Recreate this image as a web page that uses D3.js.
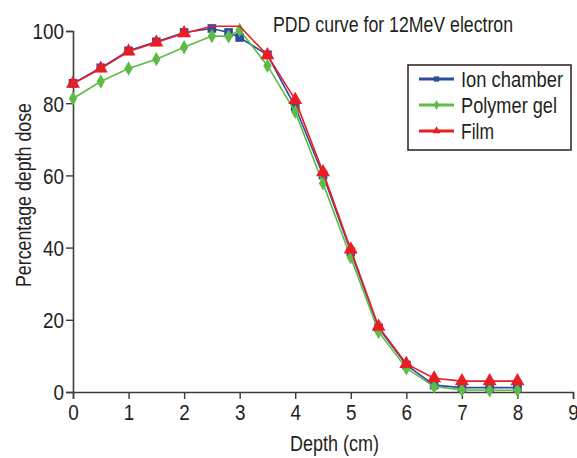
<!DOCTYPE html>
<html>
<head>
<meta charset="utf-8">
<script src="https://cdn.jsdelivr.net/npm/d3@7"></script>
<style>
  body { margin: 0; background: #fff; }
  text { font-family: "Liberation Sans", Arial, sans-serif; fill: #231f20; }
</style>
</head>
<body>
<div id="chart-area"></div>
<script>
var width = 577;
var height = 458;

// data
var depth = [0, 0.5, 1, 1.5, 2, 2.5, 2.8, 3, 3.5, 4, 4.5, 5, 5.5, 6, 6.5, 7, 7.5, 8];
var ionChamber = [85.5, 89.8, 94.5, 97, 99.6, 100.7, 99.6, 98.2, 93.4, 79, 60.1, 38.9, 17.8, 7.5, 1.9, 1.2, 1.2, 1.2];
var polymerGel = [81.3, 86, 89.6, 92.2, 95.5, 98.6, 98.5, 100.3, 90.4, 77.6, 57.8, 37.3, 16.7, 6.6, 1.5, 0.6, 0.5, 0.5];
var filmDepth = [0, 0.5, 1, 1.5, 2, 2.5, 3, 3.5, 4, 4.5, 5, 5.5, 6, 6.5, 7, 7.5, 8];
var film = [85.4, 89.6, 94.3, 96.8, 99.4, 101.3, 101.3, 93.3, 80.9, 60.9, 39.5, 18.1, 7.8, 3.8, 3.0, 3.0, 3.0];
var xTicks = [0, 1, 2, 3, 4, 5, 6, 7, 8, 9];
var yTicks = [0, 20, 40, 60, 80, 100];

var series = [
  { name: "Ion chamber", x: depth, y: ionChamber, color: "#2e4c9f", symbol: d3.symbolSquare, size: 75, w: 102 },
  { name: "Polymer gel", x: depth, y: polymerGel, color: "#5dbb46", symbol: d3.symbolDiamond, size: 60, w: 96 },
  { name: "Film", x: filmDepth, y: film, color: "#ec1c24", symbol: d3.symbolTriangle, size: 85, w: 33 }
];

var svg = d3.select("#chart-area")
  .append("svg")
  .attr("width", width)
  .attr("height", height);

// the reference font is a condensed one: squeeze text to the measured widths
function squeeze(sel, w) {
  sel.attr("textLength", w).attr("lengthAdjust", "spacingAndGlyphs");
}

var x = d3.scaleLinear().domain([0, 9]).range([73, 573]);
var y = d3.scaleLinear().domain([0, 100]).range([392, 31]);

// axes
var xAxis = svg.append("g")
  .attr("transform", "translate(0," + y(0) + ")")
  .call(d3.axisBottom(x).tickValues(xTicks).tickSize(7).tickPadding(5));
var yAxis = svg.append("g")
  .attr("transform", "translate(" + x(0) + ",0)")
  .call(d3.axisLeft(y).tickValues(yTicks).tickSize(7).tickPadding(2));

[xAxis, yAxis].forEach(function(g) {
  g.select(".domain").attr("stroke", "#3c3c3c").attr("stroke-width", 1.6);
  g.selectAll(".tick line").attr("stroke", "#3c3c3c").attr("stroke-width", 1.4);
  g.selectAll(".tick text")
    .attr("font-size", 22)
    .attr("fill", "#231f20")
    .attr("font-family", "Liberation Sans, sans-serif")
    .each(function() {
      squeeze(d3.select(this), this.textContent.length * 10.5);
    });
});
yAxis.selectAll(".tick text").attr("dy", "0.36em");

// lines
var line = d3.line()
  .x(function(d) { return x(d[0]); })
  .y(function(d) { return y(d[1]); });

series.forEach(function(s) {
  var pts = s.x.map(function(d, i) { return [d, s.y[i]]; });
  svg.append("path")
    .datum(pts)
    .attr("fill", "none")
    .attr("stroke", s.color)
    .attr("stroke-width", 1.6)
    .attr("d", line);
  // film has no markers on its flat plateau
  var maxV = d3.max(s.y);
  var marked = s.name === "Film" ? pts.filter(function(d) { return d[1] < maxV; }) : pts;
  svg.selectAll(null)
    .data(marked)
    .enter()
    .append("path")
    .attr("transform", function(d) { return "translate(" + x(d[0]) + "," + y(d[1]) + ")"; })
    .attr("d", d3.symbol().type(s.symbol).size(s.size))
    .attr("fill", s.color);
});

// title
svg.append("text")
  .attr("x", 273)
  .attr("y", 32)
  .attr("font-size", 22)
  .text("PDD curve for 12MeV electron")
  .call(squeeze, 240);

// axis labels
svg.append("text")
  .attr("x", 290)
  .attr("y", 451)
  .attr("font-size", 22)
  .text("Depth (cm)")
  .call(squeeze, 89);

svg.append("text")
  .attr("transform", "translate(31,287) rotate(-90)")
  .attr("font-size", 22)
  .text("Percentage depth dose")
  .call(squeeze, 184);

// legend
var legend = svg.append("g");
legend.append("rect")
  .attr("x", 408)
  .attr("y", 65)
  .attr("width", 163)
  .attr("height", 85)
  .attr("fill", "#fff")
  .attr("stroke", "#3a2a2a")
  .attr("stroke-width", 1.6);

series.forEach(function(s, i) {
  var ly = 79 + i * 26;
  legend.append("line")
    .attr("x1", 419).attr("x2", 454)
    .attr("y1", ly).attr("y2", ly)
    .attr("stroke", s.color)
    .attr("stroke-width", 3);
  legend.append("path")
    .attr("transform", "translate(436.5," + ly + ")")
    .attr("d", d3.symbol().type(s.symbol).size(28))
    .attr("fill", s.color);
  legend.append("text")
    .attr("x", 461)
    .attr("y", ly + 8)
    .attr("font-size", 22)
    .text(s.name)
    .call(squeeze, s.w);
});
</script>
</body>
</html>
